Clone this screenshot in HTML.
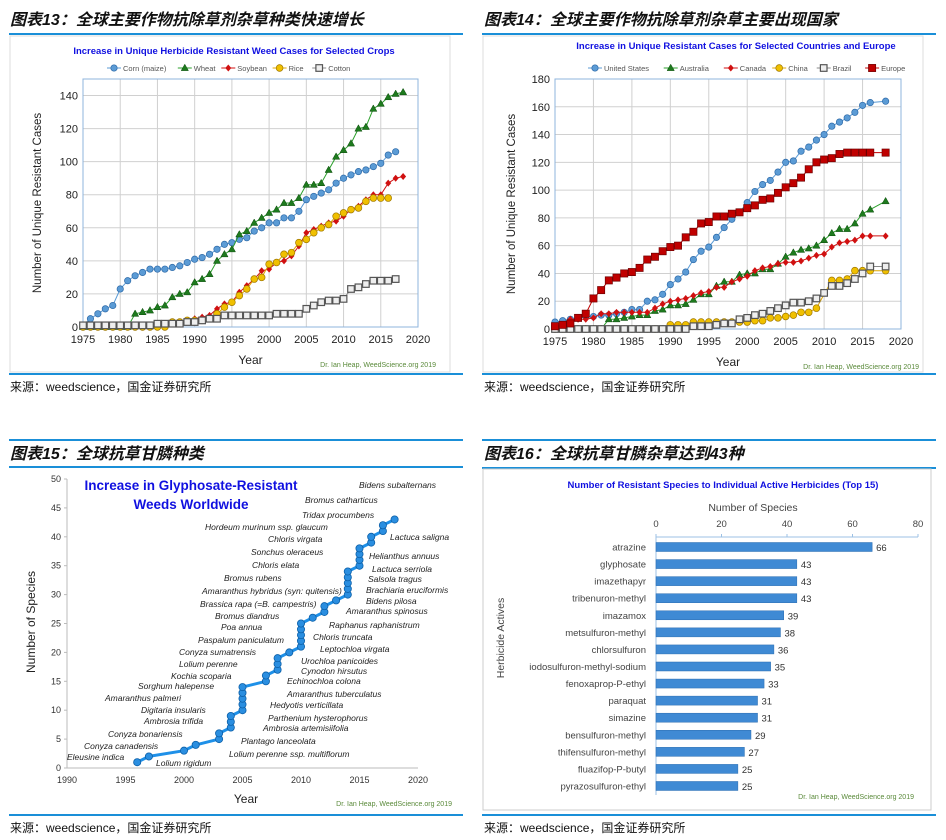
<!DOCTYPE html>
<html><head><meta charset="utf-8"><style>
html,body{margin:0;padding:0;background:#fff;}
svg{display:block;font-family:"Liberation Sans","Noto Sans CJK SC",sans-serif;}
.hd{font-family:"Liberation Sans","Noto Sans CJK SC",sans-serif;font-weight:bold;font-style:italic;font-size:16px;fill:#111;}
.src{font-size:12px;fill:#111;font-family:"Liberation Sans","Noto Sans CJK SC",sans-serif;}
.tk{font-size:11px;fill:#222;}
.ttl{font-weight:bold;fill:#1010e0;}
.cr{font-size:7px;fill:#5a8a3a;}
.sp{font-size:8.5px;font-style:italic;fill:#222;}
</style></head><body>
<svg id="root" width="946" height="840" viewBox="0 0 946 840" xmlns="http://www.w3.org/2000/svg">
<g>
<text class="hd" x="10" y="25">图表13：全球主要作物抗除草剂杂草种类快速增长</text>
<line x1="9" y1="34" x2="463" y2="34" stroke="#1a8fd8" stroke-width="2"/>
<line x1="9" y1="374" x2="463" y2="374" stroke="#1a8fd8" stroke-width="2"/>
<rect x="10" y="36" width="440" height="336" fill="none" stroke="#ddd"/>
<text class="src" x="10" y="391">来源：weedscience，国金证券研究所</text>
</g>
<g>
<text class="hd" x="484" y="25">图表14：全球主要作物抗除草剂杂草主要出现国家</text>
<line x1="482" y1="34" x2="936" y2="34" stroke="#1a8fd8" stroke-width="2"/>
<line x1="482" y1="374" x2="936" y2="374" stroke="#1a8fd8" stroke-width="2"/>
<rect x="483" y="36" width="440" height="336" fill="none" stroke="#ddd"/>
<text class="src" x="484" y="391">来源：weedscience，国金证券研究所</text>
</g>
<g>
<line x1="9" y1="440" x2="463" y2="440" stroke="#1a8fd8" stroke-width="2"/>
<text class="hd" x="10" y="459">图表15：全球抗草甘膦种类</text>
<line x1="9" y1="467" x2="463" y2="467" stroke="#1a8fd8" stroke-width="2"/>
<line x1="9" y1="815" x2="463" y2="815" stroke="#1a8fd8" stroke-width="2"/>
<text class="src" x="10" y="832">来源：weedscience，国金证券研究所</text>
</g>
<g>
<line x1="482" y1="440" x2="936" y2="440" stroke="#1a8fd8" stroke-width="2"/>
<text class="hd" x="484" y="459">图表16：全球抗草甘膦杂草达到43种</text>
<line x1="482" y1="468" x2="936" y2="468" stroke="#1a8fd8" stroke-width="2"/>
<rect x="483" y="469" width="448" height="341" fill="none" stroke="#ccc"/>
<line x1="482" y1="815" x2="936" y2="815" stroke="#1a8fd8" stroke-width="2"/>
<text class="src" x="484" y="832">来源：weedscience，国金证券研究所</text>
</g>
</svg>
<script>
// ---------- Chart 13 data ----------
const c13Years = [1975,1976,1977,1978,1979,1980,1981,1982,1983,1984,1985,1986,1987,1988,1989,1990,1991,1992,1993,1994,1995,1996,1997,1998,1999,2000,2001,2002,2003,2004,2005,2006,2007,2008,2009,2010,2011,2012,2013,2014,2015,2016,2017,2018];
const c13Corn = [1,5,8,11,13,23,28,31,33,35,35,35,36,37,39,41,42,44,47,50,51,53,54,58,60,63,63,66,66,70,77,79,81,83,87,90,92,94,95,97,99,104,106,null];
const c13Wheat = [0,0,0,0,0,0,0,8,9,10,12,13,18,20,21,27,29,32,40,44,47,56,58,63,66,69,71,75,75,78,86,86,87,95,103,107,111,120,121,132,135,139,141,142];
const c13Soy = [0,0,0,0,0,0,0,0,0,0,1,1,2,3,4,5,6,7,11,14,15,21,25,29,34,35,39,40,43,49,57,59,61,63,64,67,71,73,77,80,80,87,90,91];
const c13Rice = [0,0,0,0,0,0,0,0,0,0,0,0,3,3,4,4,4,5,8,12,15,19,23,29,30,38,39,44,45,51,53,57,60,62,67,69,71,72,76,78,78,78,null,null];
const c13Cotton = [1,1,1,1,1,1,1,1,1,1,2,2,2,2,3,3,4,5,5,7,7,7,7,7,7,7,8,8,8,8,11,13,15,16,16,17,23,24,26,28,28,28,29,null];
const c13YTicks = [0,20,40,60,80,100,120,140];
const c13XTicks = [1975,1980,1985,1990,1995,2000,2005,2010,2015,2020];
// ---------- Chart 14 data ----------
const c14Years = c13Years;
const c14US = [5,6,7,8,9,9,10,10,11,12,14,14,20,21,25,32,36,41,50,56,59,66,73,79,84,91,99,104,107,113,120,121,128,131,136,140,146,149,152,156,161,163,null,164];
const c14Aus = [0,0,0,0,0,0,0,7,7,8,9,10,10,13,14,17,17,18,21,25,25,31,34,34,39,40,40,43,43,47,52,55,57,58,60,64,69,72,72,76,83,86,null,92];
const c14Can = [1,3,7,7,7,8,11,11,12,12,12,12,12,15,18,20,21,22,24,26,27,30,30,34,36,38,42,44,45,47,48,48,49,51,53,54,59,62,63,64,67,67,null,67];
const c14China = [0,0,0,0,0,0,0,0,0,0,0,0,0,0,0,3,3,3,5,5,5,5,5,5,5,5,6,6,8,8,9,10,12,12,15,null,35,35,36,42,42,42,null,42];
const c14Brazil = [0,0,0,0,0,0,0,0,0,0,0,0,0,0,0,0,0,0,2,2,2,3,4,4,7,8,10,11,13,15,17,19,19,20,22,26,31,31,33,36,40,45,null,45];
const c14Europe = [2,3,4,8,11,22,28,35,37,40,41,44,50,52,56,59,60,66,70,76,77,81,81,83,84,87,89,93,94,98,102,105,109,115,120,122,123,126,127,127,127,127,null,127];
const c14YTicks = [0,20,40,60,80,100,120,140,160,180];
const c14XTicks = c13XTicks;
// ---------- Chart 15 data (year each species was added; count = index+1) ----------
const c15Years = [1996,1997,2000,2001,2003,2003,2004,2004,2004,2005,2005,2005,2005,2005,2007,2007,2008,2008,2008,2009,2010,2010,2010,2010,2010,2011,2012,2012,2013,2014,2014,2014,2014,2014,2015,2015,2015,2015,2016,2016,2017,2017,2018];
const c15YTicks = [0,5,10,15,20,25,30,35,40,45,50];
const c15XTicks = [1990,1995,2000,2005,2010,2015,2020];
// ---------- Chart 16 data ----------
const c16Names = ["atrazine","glyphosate","imazethapyr","tribenuron-methyl","imazamox","metsulfuron-methyl","chlorsulfuron","iodosulfuron-methyl-sodium","fenoxaprop-P-ethyl","paraquat","simazine","bensulfuron-methyl","thifensulfuron-methyl","fluazifop-P-butyl","pyrazosulfuron-ethyl"];
const c16Values = [66,43,43,43,39,38,36,35,33,31,31,29,27,25,25];
const c16Ticks = [0,20,40,60,80];

const NS='http://www.w3.org/2000/svg';
const root=document.getElementById('root');
function mk(tag,attrs,parent,txt){const e=document.createElementNS(NS,tag);for(const k in attrs)e.setAttribute(k,attrs[k]);if(txt!==undefined)e.textContent=txt;(parent||root).appendChild(e);return e;}

function marker(g,type,x,y){
  let e;
  if(type==='circle-blue'){e=mk('circle',{cx:x,cy:y,r:3.2,fill:'#5b9bd5',stroke:'#2e6aa8','stroke-width':0.7},g);}
  else if(type==='circle-gold'){e=mk('circle',{cx:x,cy:y,r:3.4,fill:'#f0c000',stroke:'#a07800','stroke-width':0.7},g);}
  else if(type==='tri'){e=mk('path',{d:`M${x} ${y-3.8}L${x+3.6} ${y+2.6}L${x-3.6} ${y+2.6}Z`,fill:'#1e7a1e',stroke:'#0a4a0a','stroke-width':0.5},g);}
  else if(type==='diamond'){e=mk('path',{d:`M${x} ${y-3.5}L${x+3} ${y}L${x} ${y+3.5}L${x-3} ${y}Z`,fill:'#d01010'},g);}
  else if(type==='sq-gray'){e=mk('rect',{x:x-3.3,y:y-3.3,width:6.6,height:6.6,fill:'#eee',stroke:'#555','stroke-width':1.2},g);}
  else if(type==='sq-red'){e=mk('rect',{x:x-3.6,y:y-3.6,width:7.2,height:7.2,fill:'#c00000',stroke:'#700000','stroke-width':0.7},g);}
  return e;
}

function lineChart(cfg){
  const g=mk('g',{});
  
  
  const X=v=>cfg.x0+(v-cfg.xmin)/(cfg.xmax-cfg.xmin)*(cfg.x1-cfg.x0);
  const Y=v=>cfg.y0-(v-cfg.ymin)/(cfg.ymax-cfg.ymin)*(cfg.y0-cfg.y1);
  cfg.yTicks.forEach(t=>{
    const l=mk('line',{x1:cfg.x0,x2:cfg.x1,y1:Y(t),y2:Y(t),stroke:'#d0d0d0','stroke-width':1},g);
    
    const tx=mk('text',{x:cfg.x0-5,y:Y(t)+4,'text-anchor':'end',class:'tk'},g,String(t));
    
  });
  cfg.xTicks.forEach(t=>{
    const l=mk('line',{x1:X(t),x2:X(t),y1:cfg.y0,y2:cfg.y1,stroke:'#d0d0d0','stroke-width':1},g);
    
    const tx=mk('text',{x:X(t),y:cfg.y0+16,'text-anchor':'middle',class:'tk'},g,String(t));
    
  });
  mk('rect',{x:cfg.x0,y:cfg.y1,width:cfg.x1-cfg.x0,height:cfg.y0-cfg.y1,fill:'none',stroke:'#8fb4dc','stroke-width':1},g);
  cfg.series.forEach(s=>{
    const sg=mk('g',{},g);
    
    
    let d='';
    cfg.xs.forEach((yr,i)=>{const v=s.vals[i];if(v===null||v===undefined)return;d+=(d?'L':'M')+X(yr).toFixed(1)+' '+Y(v).toFixed(1);});
    mk('path',{d:d,fill:'none',stroke:s.color,'stroke-width':1},sg);
    cfg.xs.forEach((yr,i)=>{const v=s.vals[i];if(v===null||v===undefined)return;
      const m=marker(sg,s.marker,X(yr),Y(v));
      
      });
  });
  // legend
  let lx=cfg.legX;
  cfg.series.forEach(s=>{
    const lg=mk('g',{},g);
    
    
    mk('line',{x1:lx,x2:lx+14,y1:cfg.legY,y2:cfg.legY,stroke:s.color},lg);
    marker(lg,s.marker,lx+7,cfg.legY);
    const t=mk('text',{x:lx+16,y:cfg.legY+3,'font-size':7.5,fill:'#555'},lg,s.label);
    lx+=16+s.label.length*3.9+cfg.legGap;
  });
  const tt=mk('text',{x:cfg.titleX,y:cfg.titleY,'text-anchor':'middle','font-size':9.5,class:'ttl'},g,cfg.title);
  
  const yt=mk('text',{x:0,y:0,'text-anchor':'middle','font-size':11.5,fill:'#222',transform:`translate(${cfg.yTitleX},${(cfg.y0+cfg.y1)/2}) rotate(-90)`},g,'Number of Unique Resistant Cases');
  
  const xt=mk('text',{x:(cfg.x0+cfg.x1)/2,y:cfg.y0+37,'text-anchor':'middle','font-size':12,fill:'#222'},g,'Year');
  
  const cr=mk('text',{x:cfg.x1+18,y:cfg.y0+40,'text-anchor':'end',class:'cr'},g,'Dr. Ian Heap, WeedScience.org 2019');
  
}

lineChart({name:'chart-13-crops',x0:83,x1:418,y0:327,y1:79,xmin:1975,xmax:2020,ymin:0,ymax:150,
  xs:c13Years,yTicks:c13YTicks,xTicks:c13XTicks,title:'Increase in Unique Herbicide Resistant Weed Cases for Selected Crops',
  titleX:234,titleY:54,legX:107,legY:68,legGap:8,yTitleX:41,
  series:[{key:'corn',label:'Corn (maize)',vals:c13Corn,color:'#5b9bd5',marker:'circle-blue'},
    {key:'wheat',label:'Wheat',vals:c13Wheat,color:'#2ca02c',marker:'tri'},
    {key:'soybean',label:'Soybean',vals:c13Soy,color:'#d01010',marker:'diamond'},
    {key:'rice',label:'Rice',vals:c13Rice,color:'#e0a800',marker:'circle-gold'},
    {key:'cotton',label:'Cotton',vals:c13Cotton,color:'#888',marker:'sq-gray'}]});

lineChart({name:'chart-14-countries',x0:555,x1:901,y0:329,y1:79,xmin:1975,xmax:2020,ymin:0,ymax:180,
  xs:c14Years,yTicks:c14YTicks,xTicks:c14XTicks,title:'Increase in Unique Resistant Cases for Selected Countries and Europe',
  titleX:736,titleY:49,legX:588,legY:68,legGap:9,yTitleX:515,
  series:[{key:'us',label:'United States',vals:c14US,color:'#5b9bd5',marker:'circle-blue'},
    {key:'australia',label:'Australia',vals:c14Aus,color:'#2ca02c',marker:'tri'},
    {key:'canada',label:'Canada',vals:c14Can,color:'#d01010',marker:'diamond'},
    {key:'china',label:'China',vals:c14China,color:'#e0a800',marker:'circle-gold'},
    {key:'brazil',label:'Brazil',vals:c14Brazil,color:'#888',marker:'sq-gray'},
    {key:'europe',label:'Europe',vals:c14Europe,color:'#c00000',marker:'sq-red'}]});

// ---------- Chart 15 ----------
(function(){
  const g=mk('g',{});
  
  
  const x0=67,x1=418,y0=768,y1=479;
  const X=v=>x0+(v-1990)/30*(x1-x0);
  const Y=v=>y0-v/50*(y0-y1);
  mk('line',{x1:x0,x2:x0,y1:y1,y2:y0,stroke:'#bbb'},g);
  mk('line',{x1:x0,x2:x1,y1:y0,y2:y0,stroke:'#bbb'},g);
  c15YTicks.forEach(t=>{const tx=mk('text',{x:x0-6,y:Y(t)+3,'text-anchor':'end','font-size':9,fill:'#333'},g,String(t));
    
    mk('line',{x1:x0-3,x2:x0,y1:Y(t),y2:Y(t),stroke:'#bbb'},g);});
  c15XTicks.forEach(t=>{const tx=mk('text',{x:X(t),y:y0+15,'text-anchor':'middle','font-size':9,fill:'#333'},g,String(t));
    });
  let d='';
  c15Years.forEach((yr,i)=>{d+=(i?'L':'M')+X(yr).toFixed(1)+' '+Y(i+1).toFixed(1);});
  mk('path',{d:d,fill:'none',stroke:'#1e90e8','stroke-width':3,'stroke-linejoin':'round'},g);
  c15Years.forEach((yr,i)=>{const c=mk('circle',{cx:X(yr),cy:Y(i+1),r:3.6,fill:'#2a8ee0',stroke:'#0b5fa8','stroke-width':0.8},g);
    });
  const t1=mk('text',{x:191,y:490,'text-anchor':'middle','font-size':13.5,class:'ttl'},g,'Increase in Glyphosate-Resistant');
  
  mk('text',{x:191,y:509,'text-anchor':'middle','font-size':13.5,class:'ttl'},g,'Weeds Worldwide');
  const yt=mk('text',{x:0,y:0,'text-anchor':'middle','font-size':12,fill:'#222',transform:'translate(35,622) rotate(-90)'},g,'Number of Species');
  
  const xt=mk('text',{x:246,y:803,'text-anchor':'middle','font-size':12,fill:'#222'},g,'Year');
  
  const cr=mk('text',{x:452,y:806,'text-anchor':'end',class:'cr'},g,'Dr. Ian Heap, WeedScience.org 2019');
  
  const labels=[["Bidens subalternans",359,488],["Bromus catharticus",305,503],["Tridax procumbens",302,518],["Hordeum murinum ssp. glaucum",205,530],["Chloris virgata",268,542],["Sonchus oleraceus",251,555],["Chloris elata",252,568],["Bromus rubens",224,581],["Amaranthus hybridus (syn: quitensis)",202,594],["Brassica rapa (=B. campestris)",200,607],["Bromus diandrus",215,619],["Poa annua",221,630],["Paspalum paniculatum",198,643],["Conyza sumatrensis",179,655],["Lolium perenne",179,667],["Kochia scoparia",171,679],["Sorghum halepense",138,689],["Amaranthus palmeri",105,701],["Digitaria insularis",141,713],["Ambrosia trifida",144,724],["Conyza bonariensis",108,737],["Conyza canadensis",84,749],["Eleusine indica",67,760],
  ["Lactuca saligna",390,540],["Helianthus annuus",369,559],["Lactuca serriola",372,572],["Salsola tragus",368,582],["Brachiaria eruciformis",366,593],["Bidens pilosa",366,604],["Amaranthus spinosus",346,614],["Raphanus raphanistrum",329,628],["Chloris truncata",313,640],["Leptochloa virgata",320,652],["Urochloa panicoides",301,664],["Cynodon hirsutus",301,674],["Echinochloa colona",287,684],["Amaranthus tuberculatus",287,697],["Hedyotis verticillata",270,708],["Parthenium hysterophorus",268,721],["Ambrosia artemisiifolia",263,731],["Plantago lanceolata",241,744],["Lolium perenne ssp. multiflorum",229,757],["Lolium rigidum",156,766]];
  labels.forEach(l=>{const t=mk('text',{x:l[1],y:l[2],class:'sp'},g,l[0]);
    });
})();

// ---------- Chart 16 ----------
(function(){
  const g=mk('g',{});
  
  
  const x0=656,x1=918,yTop=547,step=17.07;
  const X=v=>x0+v/80*(x1-x0);
  const t=mk('text',{x:723,y:488,'text-anchor':'middle','font-size':9.5,class:'ttl'},g,'Number of Resistant Species to Individual Active Herbicides (Top 15)');
  
  const at=mk('text',{x:753,y:511,'text-anchor':'middle','font-size':10.5,fill:'#444'},g,'Number of Species');
  
  mk('line',{x1:x0,x2:x1,y1:537,y2:537,stroke:'#9cc0e4'},g);
  mk('line',{x1:x0,x2:x0,y1:535,y2:795,stroke:'#9cc0e4'},g);
  c16Ticks.forEach(v=>{const tx=mk('text',{x:X(v),y:527,'text-anchor':'middle','font-size':9.5,fill:'#444'},g,String(v));
    
    mk('line',{x1:X(v),x2:X(v),y1:534,y2:537,stroke:'#9cc0e4'},g);});
  c16Names.forEach((n,i)=>{
    const cy=yTop+i*step;
    const b=mk('rect',{x:x0,y:cy-4.5,width:X(c16Values[i])-x0,height:9,fill:'#3f8ad4',stroke:'#2a6cb0','stroke-width':0.5},g);
    
    const lb=mk('text',{x:646,y:cy+3.5,'text-anchor':'end','font-size':9.5,fill:'#444'},g,n);
    
    const vl=mk('text',{x:X(c16Values[i])+4,y:cy+4,'font-size':9.5,fill:'#333'},g,String(c16Values[i]));
    
  });
  const yt=mk('text',{x:0,y:0,'text-anchor':'middle','font-size':10.5,fill:'#444',transform:'translate(504,638) rotate(-90)'},g,'Herbicide Actives');
  
  const cr=mk('text',{x:914,y:799,'text-anchor':'end',class:'cr'},g,'Dr. Ian Heap, WeedScience.org 2019');
  
})();
</script>
</body></html>
